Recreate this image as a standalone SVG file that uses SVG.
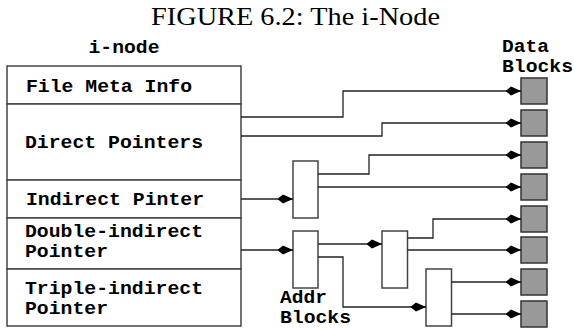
<svg xmlns="http://www.w3.org/2000/svg" width="574" height="328" viewBox="0 0 574 328">
<style>
.title{font-family:"Liberation Serif","Times New Roman",serif;font-size:25px;fill:#000}
.mono{font-family:"Liberation Mono","Courier New",monospace;font-weight:bold;font-size:17.5px;fill:#000}
.cell{fill:#fff;stroke:#444;stroke-width:1.5}
.addr{fill:#fff;stroke:#444;stroke-width:1.5}
.data{fill:#999;stroke:#333;stroke-width:1.5}
.conn{fill:none;stroke:#222;stroke-width:1.3;marker-end:url(#arr)}
</style>
<defs>
<marker id="arr" markerUnits="userSpaceOnUse" markerWidth="16" markerHeight="10" viewBox="0 -5 16 10" refX="15.5" refY="0" orient="auto">
<path d="M0,0 L5.5,-4.4 L15.5,0 L5.5,4.4 Z" fill="#000"/>
</marker>
</defs>
<rect width="574" height="328" fill="#fff"/>
<text class="title" x="151" y="25" textLength="289" lengthAdjust="spacingAndGlyphs">FIGURE 6.2: The i-Node</text>
<g id="inode">
<text class="mono" x="124" y="53" text-anchor="middle" textLength="71" lengthAdjust="spacingAndGlyphs">i-node</text>
<g id="meta"><rect class="cell" x="7" y="66" width="234" height="38"/><text class="mono" x="26" y="92" textLength="166" lengthAdjust="spacingAndGlyphs">File Meta Info</text></g>
<g id="direct"><rect class="cell" x="7" y="104" width="234" height="76"/><text class="mono" x="25" y="148" textLength="178" lengthAdjust="spacingAndGlyphs">Direct Pointers</text></g>
<g id="indirect"><rect class="cell" x="7" y="180" width="234" height="38"/><text class="mono" x="26" y="205" textLength="178" lengthAdjust="spacingAndGlyphs">Indirect Pinter</text></g>
<g id="double"><rect class="cell" x="7" y="218" width="234" height="51"/><text class="mono" x="25" y="237" textLength="178" lengthAdjust="spacingAndGlyphs">Double-indirect</text><text class="mono" x="25" y="257" textLength="83" lengthAdjust="spacingAndGlyphs">Pointer</text></g>
<g id="triple"><rect class="cell" x="7" y="269" width="234" height="57"/><text class="mono" x="25" y="294" textLength="178" lengthAdjust="spacingAndGlyphs">Triple-indirect</text><text class="mono" x="25" y="314" textLength="83" lengthAdjust="spacingAndGlyphs">Pointer</text></g>
</g>
<g id="addr1"><rect class="addr" x="293" y="161" width="25" height="57"/></g>
<g id="addr2"><rect class="addr" x="293" y="231" width="25" height="57"/></g>
<g id="addr3"><rect class="addr" x="382" y="231" width="25.5" height="57"/></g>
<g id="addr4"><rect class="addr" x="426" y="269" width="25.5" height="57"/></g>
<g id="addr-label"><text class="mono" x="280" y="303" textLength="47" lengthAdjust="spacingAndGlyphs">Addr</text><text class="mono" x="280" y="323" textLength="71" lengthAdjust="spacingAndGlyphs">Blocks</text></g>
<g id="data-label"><text class="mono" x="502" y="52" textLength="47" lengthAdjust="spacingAndGlyphs">Data</text><text class="mono" x="502" y="72" textLength="71" lengthAdjust="spacingAndGlyphs">Blocks</text></g>
<g id="data1"><rect class="data" x="521" y="78" width="26" height="26"/></g>
<g id="data2"><rect class="data" x="521" y="110" width="26" height="26"/></g>
<g id="data3"><rect class="data" x="521" y="142" width="26" height="26"/></g>
<g id="data4"><rect class="data" x="521" y="174" width="26" height="26"/></g>
<g id="data5"><rect class="data" x="521" y="206" width="26" height="26"/></g>
<g id="data6"><rect class="data" x="521" y="237" width="26" height="26"/></g>
<g id="data7"><rect class="data" x="521" y="269" width="26" height="26"/></g>
<g id="data8"><rect class="data" x="521" y="301" width="26" height="26"/></g>
<g id="connectors">
<path class="conn" d="M241,117 H343 V91 H521"/>
<path class="conn" d="M241,136 H382 V123 H521"/>
<path class="conn" d="M241,199 H293"/>
<path class="conn" d="M318,174 H369 V155 H521"/>
<path class="conn" d="M318,187 H521"/>
<path class="conn" d="M241,250 H293"/>
<path class="conn" d="M318,244 H382"/>
<path class="conn" d="M318,257 H343 V307 H426"/>
<path class="conn" d="M407.5,238 H433 V219 H521"/>
<path class="conn" d="M407.5,250 H521"/>
<path class="conn" d="M451.5,282 H521"/>
<path class="conn" d="M451.5,314 H521"/>
</g>
</svg>
